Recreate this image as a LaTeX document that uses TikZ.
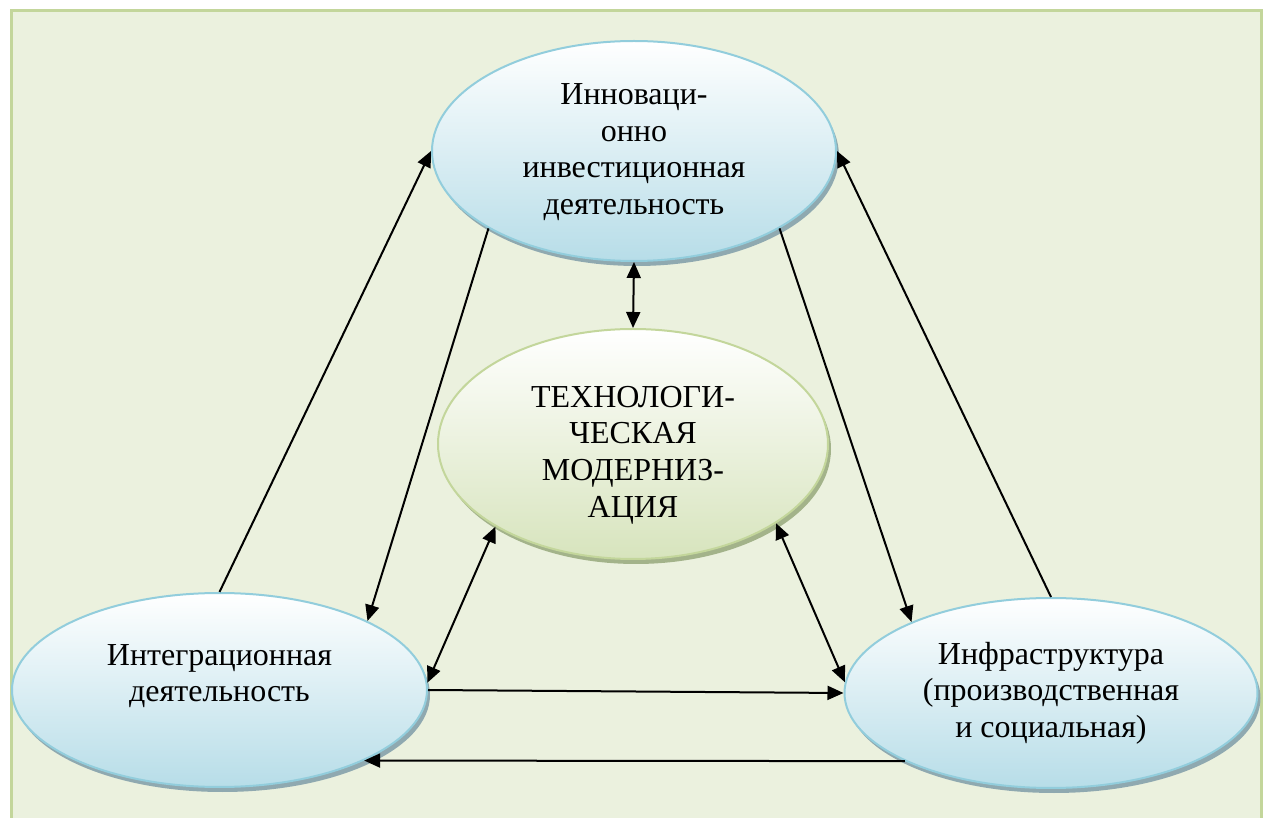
\documentclass[tikz,border=0pt]{standalone}
\usepackage{fontspec}
\setmainfont{Liberation Serif}
\usetikzlibrary{shapes.geometric,arrows.meta,shadows}
\definecolor{frameline}{HTML}{C3D69B}
\definecolor{framefill}{HTML}{EBF1DE}
\definecolor{blueline}{HTML}{92CDDC}
\definecolor{bluefill}{HTML}{B7DDE8}
\definecolor{blueshadow}{HTML}{8FA9B0}
\definecolor{greenline}{HTML}{C3D69B}
\definecolor{greenfill}{HTML}{D7E4BD}
\definecolor{greenshadow}{HTML}{A3B38A}
\begin{document}
\begin{tikzpicture}[x=0.5pt,y=-0.5pt,
  blueell/.style={ellipse, draw=blueline, line width=1pt, top color=white, bottom color=bluefill, inner sep=0pt,
    drop shadow={shadow xshift=1.5pt, shadow yshift=-2.5pt, fill=blueshadow, opacity=1}},
  greenell/.style={ellipse, draw=greenline, line width=1pt, top color=white, bottom color=greenfill, inner sep=0pt,
    drop shadow={shadow xshift=1.5pt, shadow yshift=-2.5pt, fill=greenshadow, opacity=1}},
  lbl/.style={align=center, font=\fontsize{16}{18.3}\selectfont, inner sep=0pt},
  conn/.style={line width=1pt, -{Triangle[length=8pt,width=7pt]}},
  connboth/.style={line width=1pt, {Triangle[length=8pt,width=7pt]}-{Triangle[length=8pt,width=7pt]}}]
\clip (0,0) rectangle (1266,818);
\fill[white] (0,0) rectangle (1266,818);
\draw[frameline, fill=framefill, line width=1.5pt] (11,11) rectangle (1261,840);

\node[blueell, minimum width=202pt, minimum height=110pt] (T) at (634,151) {};
\node[greenell, minimum width=195pt, minimum height=115pt] (C) at (633,444) {};
\node[blueell, minimum width=207.5pt, minimum height=97pt] (L) at (219.5,690) {};
\node[blueell, minimum width=206.5pt, minimum height=95pt] (R) at (1051,693) {};

\node[lbl] (Tt) at ([yshift=-0.5pt]T.center) {Инноваци-\\онно\\инвестиционная\\деятельность};
\node[lbl] (Ct) at ([yshift=-5.5pt]C.center) {ТЕХНОЛОГИ-\\ЧЕСКАЯ\\МОДЕРНИЗ-\\АЦИЯ};
\node[lbl] (Lt) at ([yshift=7pt]L.center) {Интеграционная\\деятельность};
\node[lbl] (Rt) at (R.center) {Инфраструктура\\(производственная\\и социальная)};

\draw[conn] (L.north) -- (T.west);
\draw[conn] (T.208.5) -- (L.25.6);
\draw[conn] (T.332.2) -- (R.153.8);
\draw[conn] (R.north) -- (T.east);
\draw[connboth] (T.south) -- (C.north);
\draw[connboth] (C.211.2) -- (L.2);
\draw[connboth] (C.331) -- (R.177);
\draw[conn] (L.east) -- (R.west);
\draw[conn] (R.205.3) -- (L.334.5);
\end{tikzpicture}
\end{document}
